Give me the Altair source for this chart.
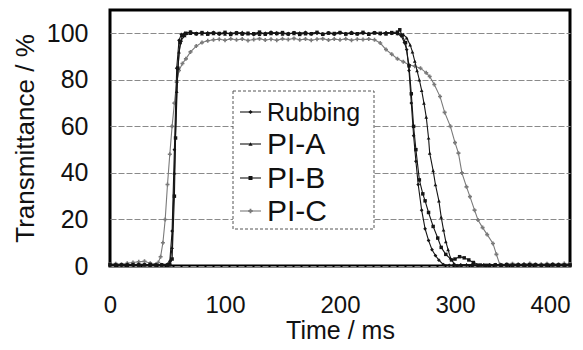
import altair as alt
import pandas as pd

# ---------------- data ----------------
series_names = ["Rubbing", "PI-A", "PI-B", "PI-C"]

rub_t = [0, 5, 10, 15, 20, 25, 30, 35, 40, 45, 50, 52, 54, 56, 58, 60, 62, 65, 70,
         75, 80, 85, 90, 95, 100, 105, 110, 115, 120, 125, 130, 135, 140, 145, 150,
         155, 160, 165, 170, 175, 180, 185, 190, 195, 200, 205, 210, 215, 220, 225,
         230, 235, 240, 245, 250,
         253, 256, 258, 260, 262, 264, 266, 268, 271, 274, 277, 280, 283, 286, 290, 295,
         300, 305, 310, 315, 320, 325, 330, 335, 340, 345, 350, 355, 360, 365, 370, 375,
         380, 385, 390, 395, 400]
rub_v = [0.4, 0.6, 0.3, 0.7, 0.5, 0.8, 0.6, 0.4, 0.5, 0.6, 0.8, 2, 15, 50, 85, 97, 99.5, 100, 100.5,
         99.6, 100.2, 99.8, 100.4, 99.5, 100.1,
         99.7, 100.3, 99.6, 100.0, 99.4, 100.2,
         99.8, 100.5, 99.7, 100.1, 99.5, 100.3,
         99.9, 100.4, 99.6, 100.0, 99.7, 100.2,
         99.5, 100.1, 99.8, 100.4, 99.6, 100.0,
         99.9, 100.3, 99.7, 100.2, 100.0, 99.8,
         99, 96, 93, 84, 70, 56, 45, 35, 24, 16, 11, 7, 4.5, 2.5, 0.6, 0.3,
         0.3, 0.5, 0.4, 0.6, 0.3, 0.5, 0.4, 0.6, 0.5, 0.3, 0.5, 0.4, 0.6, 0.4, 0.5, 0.3,
         0.6, 0.4, 0.5, 0.6, 0.4]

pia_t = [0, 5, 10, 15, 20, 25, 30, 35, 40, 45, 50, 52, 54, 56, 58, 60, 62, 65, 70,
         75, 80, 85, 90, 95, 100, 105, 110, 115, 120, 125, 130, 135, 140, 145, 150,
         155, 160, 165, 170, 175, 180, 185, 190, 195, 200, 205, 210, 215, 220, 225,
         230, 235, 240, 245, 250,
         255, 258, 261, 263, 265, 267, 269, 271, 273, 275, 277, 278, 281, 283, 286, 288,
         290, 292, 294, 296, 299, 302,
         305, 310, 315, 320, 325, 330, 335, 340, 345, 350, 355, 360, 365, 370, 375, 380,
         385, 390, 395, 400]
pia_v = [0.5, 0.3, 0.6, 0.4, 0.7, 0.5, 0.6, 0.3, 0.5, 0.4, 0.3, 1, 8, 40, 75, 92, 97, 99, 100,
         100.2, 99.7, 100.4, 99.9, 100.1, 99.6,
         100.3, 99.8, 100.5, 99.7, 100.0, 99.5,
         100.2, 99.9, 100.4, 99.6, 100.1, 99.8,
         100.3, 99.7, 100.0, 100.4, 99.6, 100.2,
         99.8, 100.5, 99.7, 100.1, 99.9, 100.3,
         99.6, 100.2, 99.8, 100.4, 100.1, 99.9,
         99.5, 98, 95, 92, 88, 84, 80, 75.5, 70, 64, 55, 48.5, 41, 35, 28, 21,
         15.5, 10.5, 7, 3.5, 1.1, 0.3,
         0.4, 0.6, 0.3, 0.5, 0.4, 0.6, 0.5, 0.3, 0.4, 0.6, 0.5, 0.4, 0.3, 0.5, 0.6, 0.4,
         0.5, 0.3, 0.4, 0.5]

pib_t = [0, 5, 10, 15, 20, 25, 30, 35, 40, 45, 50, 52, 54, 56, 57, 59, 61, 63, 66, 70,
         75, 80, 85, 90, 95, 100, 105, 110, 115, 120, 125, 130, 135, 140, 145, 150,
         155, 160, 165, 170, 175, 180, 185, 190, 195, 200, 205, 210, 215, 220, 225,
         230, 235, 240, 245,
         250, 252, 254, 257, 260, 262, 264, 266, 269, 272, 274, 277, 281, 285, 288, 292,
         297, 300, 304, 308, 312, 316, 322, 327,
         330, 335, 340, 345, 350, 355, 360, 365, 370, 375, 380, 385, 390, 395, 400]
pib_v = [0.6, 0.4, 0.5, 0.3, 0.6, 0.4, 0.5, 0.7, 0.4, 0.5, 0.4, 0.5, 3, 30, 55, 85, 96, 99, 100, 100.5,
         99.8, 100.3, 99.6, 100.1, 99.9, 100.4,
         99.5, 100.2, 99.7, 100.0, 99.8, 100.5,
         99.6, 100.1, 99.9, 100.3, 99.7, 100.2,
         99.5, 100.0, 99.8, 100.4, 99.6, 100.1,
         99.9, 100.3, 99.7, 100.0, 99.8, 100.4,
         99.6, 100.2, 100.0, 99.7, 100.3,
         100.5, 101.5, 99, 96, 86, 74, 60, 50, 37, 31, 28, 23, 17, 12, 8, 5,
         2.6, 3, 4, 3.5, 2.6, 1.5, 0.4, 0.3,
         0.3, 0.5, 0.4, 0.6, 0.3, 0.5, 0.4, 0.6, 0.5, 0.3, 0.4, 0.6, 0.5, 0.4, 0.5]

pic_t = [0, 5, 10, 15, 20, 25, 30, 35, 40, 42, 44, 46, 48, 50, 52, 54, 56, 58, 60, 63,
         66, 70, 75, 80, 85, 90,
         95, 100, 105, 110, 115, 120, 125, 130, 135, 140, 145, 150, 155, 160, 165, 170,
         175, 180, 185, 190, 195, 200, 205, 210, 215, 220, 225, 230,
         235, 240, 245, 250, 255, 260, 265, 270, 275, 278, 282, 287, 291, 296, 300, 303,
         306, 310, 313, 317, 320, 324, 328, 333, 336, 339,
         345, 350, 355, 360, 365, 370, 375, 380, 385, 390, 395, 400]
pic_v = [0.8, 1.0, 0.7, 1.2, 1.5, 1.8, 2.0, 1.2, 0.8, 1.5, 4, 10, 20, 35, 48, 60, 70, 79, 84, 87,
         89, 92, 94.5, 96, 96.8, 97.2,
         97.4, 97.0, 97.6, 97.2, 97.5, 96.9, 97.3, 97.7, 97.1, 97.4,
         97.0, 97.6, 97.3, 97.8, 97.2, 97.5, 97.0, 97.4, 97.7, 97.1,
         97.5, 97.2, 97.6, 97.0, 97.4, 97.3, 97.5, 97.2,
         95.8, 93, 91, 89, 87.8, 86.5, 85.8, 85, 83, 81.4, 78, 72.8, 66, 60, 53, 48.5,
         40, 34, 29.8, 24, 19.8, 16.5, 13.5, 9.7, 5, 0.6,
         0.8, 1.0, 0.7, 0.9, 1.1, 0.8, 0.7, 1.0, 0.9, 0.8, 1.1, 0.9]

x_ticks = [0, 100, 200, 300, 400]
y_ticks = [0, 20, 40, 60, 80, 100]

# ---------------- styling ----------------
FONT = "Liberation Sans"
series_style = {
    "Rubbing": dict(color="#151515", shape="diamond", size=14),
    "PI-A": dict(color="#151515", shape="triangle-up", size=14),
    "PI-B": dict(color="#151515", shape="square", size=12),
    "PI-C": dict(color="#7a7a7a", shape="cross", size=16),
}
series_data = {
    "Rubbing": (rub_t, rub_v),
    "PI-A": (pia_t, pia_v),
    "PI-B": (pib_t, pib_v),
    "PI-C": (pic_t, pic_v),
}
for k, (tt, vv) in series_data.items():
    assert len(tt) == len(vv), (k, len(tt), len(vv))

x_scale = alt.Scale(domain=[0, 400], nice=False, zero=False)
y_scale = alt.Scale(domain=[0, 110], nice=False)

x_axis = alt.Axis(
    values=x_ticks, title="Time / ms", grid=False, ticks=False, domain=False,
    labelFlush=False,
    labelAlign={"condition": {"test": "datum.value === 400", "value": "right"},
                "value": "center"},
    labelFontSize=24, labelPadding=27, labelColor="#111", labelFont=FONT,
    titleFontSize=25, titleFontWeight="normal", titleColor="#111", titlePadding=1,
    titleFont=FONT,
)
y_axis = alt.Axis(
    values=y_ticks, title="Transmittance / %", grid=True, ticks=False, domain=False,
    gridColor="#8a8a8a", gridDash=[6, 2], gridWidth=1,
    labelFontSize=25, labelPadding=22, labelColor="#111", labelFont=FONT,
    titleFontSize=26, titleFontWeight="normal", titleColor="#111", titlePadding=8,
    titleFont=FONT,
)

layers = []
draw_order = ["PI-C", "PI-A", "PI-B", "Rubbing"]
for name in draw_order:
    tt, vv = series_data[name]
    df = pd.DataFrame({"t": tt, "T": vv, "series": name})
    st = series_style[name]
    enc = dict(
        x=alt.X("t:Q", scale=x_scale, axis=x_axis),
        y=alt.Y("T:Q", scale=y_scale, axis=y_axis),
    )
    base = alt.Chart(df)
    layers.append(base.mark_line(color=st["color"], strokeWidth=1.1).encode(**enc))
    layers.append(
        base.mark_point(color=st["color"], shape=st["shape"], size=st["size"],
                        filled=True, opacity=1).encode(**enc)
    )

# ---------------- legend box (drawn by hand) ----------------
one = pd.DataFrame({"a": [0]})
legend_layers = [
    alt.Chart(one).mark_rect(fill="white", stroke="#555", strokeWidth=1,
                             strokeDash=[3, 2]).encode(
        x=alt.value(123), x2=alt.value(264), y=alt.value(81), y2=alt.value(219))
]
legend_y = [102, 134, 168, 201]
legend_fs = [25, 30, 30, 30]
for name, ly, fs in zip(series_names, legend_y, legend_fs):
    st = series_style[name]
    legend_layers.append(
        alt.Chart(one).mark_rule(color=st["color"], strokeWidth=1.1).encode(
            x=alt.value(130), x2=alt.value(151), y=alt.value(ly)))
    legend_layers.append(
        alt.Chart(one).mark_point(color=st["color"], shape=st["shape"], size=st["size"] + 4,
                                  filled=True, opacity=1).encode(
            x=alt.value(140.5), y=alt.value(ly)))
    legend_layers.append(
        alt.Chart(one).mark_text(text=name, font=FONT, fontSize=fs, align="left",
                                 baseline="middle", color="#111").encode(
            x=alt.value(157), y=alt.value(ly + 1)))

chart = (
    alt.layer(*layers, *legend_layers)
    .properties(width=460, height=256, autosize="none", background="white",
                padding={"left": 102, "top": 2, "right": 5, "bottom": 76})
    .configure_view(stroke="black", strokeWidth=3)
)

chart.save("out.html", embed_options={"renderer": "svg", "actions": False})
